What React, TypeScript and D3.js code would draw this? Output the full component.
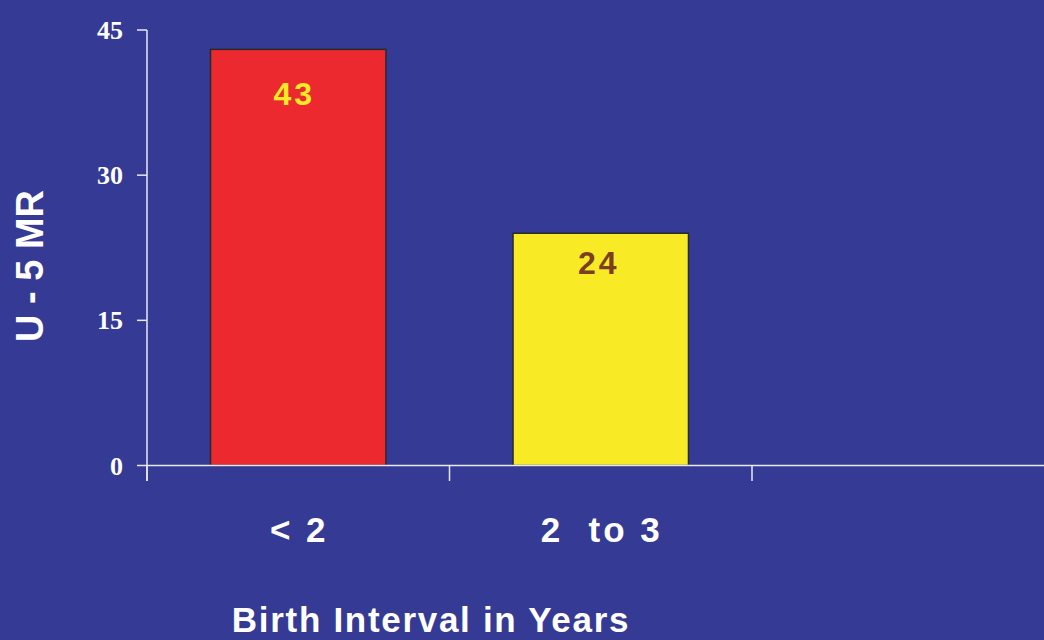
import React from "react";
import * as d3 from "d3";

const categories = ["< 2", "2  to 3", ""];
const values: (number | null)[] = [43, 24, null];
const yTicks = [0, 15, 30, 45];

const barColors = ["#EC292E", "#F8EB26", "none"];
const labelColors = ["#F8EB26", "#7A3E22", "none"];
const labelDy = [56, 41, 0];
const labelDx = [-4, -2, 0];

const W = 1044;
const H = 640;
const BG = "#353A94";
const AXIS = "#E8E8F0";
const SANS = "Liberation Sans, Arial, sans-serif";

export default function App() {
  const x0 = 147;
  const band = 302.5;
  const y = d3.scaleLinear().domain([0, 45]).range([465.5, 30]);
  const x = d3
    .scaleBand<string>()
    .domain(categories.map((_, i) => i + ""))
    .range([x0, x0 + band * categories.length])
    .paddingInner(0.42)
    .paddingOuter(0.21);
  return (
    <div style={{ position: "fixed", left: 0, top: 0, width: W, height: H, background: BG }}>
      <svg width={W} height={H} style={{ display: "block" }}>
        <rect x={0} y={0} width={W} height={H} fill={BG} />
        {values.map((v, i) =>
          v == null ? null : (
            <g key={i}>
              <rect
                x={x(i + "")!}
                y={y(v)}
                width={x.bandwidth()}
                height={y(0) - y(v)}
                fill={barColors[i]}
                stroke="#2a2a2a"
                strokeWidth={1.5}
              />
              <text
                x={x(i + "")! + x.bandwidth() / 2 + labelDx[i]}
                y={y(v) + labelDy[i]}
                textAnchor="middle"
                fill={labelColors[i]}
                fontFamily={SANS}
                fontWeight="bold"
                fontSize={32}
                letterSpacing={3}
              >
                {v}
              </text>
            </g>
          )
        )}
        {/* y axis */}
        <line x1={x0} x2={x0} y1={y(45)} y2={481} stroke={AXIS} strokeWidth={1.5} />
        {yTicks.map((t) => (
          <g key={t}>
            <line x1={137} x2={x0} y1={y(t)} y2={y(t)} stroke={AXIS} strokeWidth={1.5} />
            <text
              x={123}
              y={y(t) + 9}
              textAnchor="end"
              fill="#FFFFFF"
              fontFamily="Liberation Serif, Times New Roman, serif"
              fontWeight="bold"
              fontSize={26}
            >
              {t}
            </text>
          </g>
        ))}
        {/* x axis */}
        <line x1={x0} x2={W} y1={y(0)} y2={y(0)} stroke={AXIS} strokeWidth={1.5} />
        {categories.map((c, i) => (
          <g key={i}>
            <line x1={x0 + band * i} x2={x0 + band * i} y1={y(0)} y2={481} stroke={AXIS} strokeWidth={1.5} />
            <text
              x={x(i + "")! + x.bandwidth() / 2 + 1}
              y={542}
              textAnchor="middle"
              fill="#FFFFFF"
              fontFamily={SANS}
              fontWeight="bold"
              fontSize={35}
              letterSpacing={3}
              style={{ whiteSpace: "pre" }}
            >
              {c}
            </text>
          </g>
        ))}
        <text
          x={431}
          y={632}
          textAnchor="middle"
          fill="#FFFFFF"
          fontFamily={SANS}
          fontWeight="bold"
          fontSize={35}
          letterSpacing={1.7}
        >
          Birth Interval in Years
        </text>
        <text
          transform={`translate(43, 266) rotate(-90)`}
          textAnchor="middle"
          fill="#FFFFFF"
          fontFamily={SANS}
          fontWeight="bold"
          fontSize={38}
          style={{ whiteSpace: "pre" }}
        >
          U - 5 MR
        </text>
      </svg>
    </div>
  );
}
